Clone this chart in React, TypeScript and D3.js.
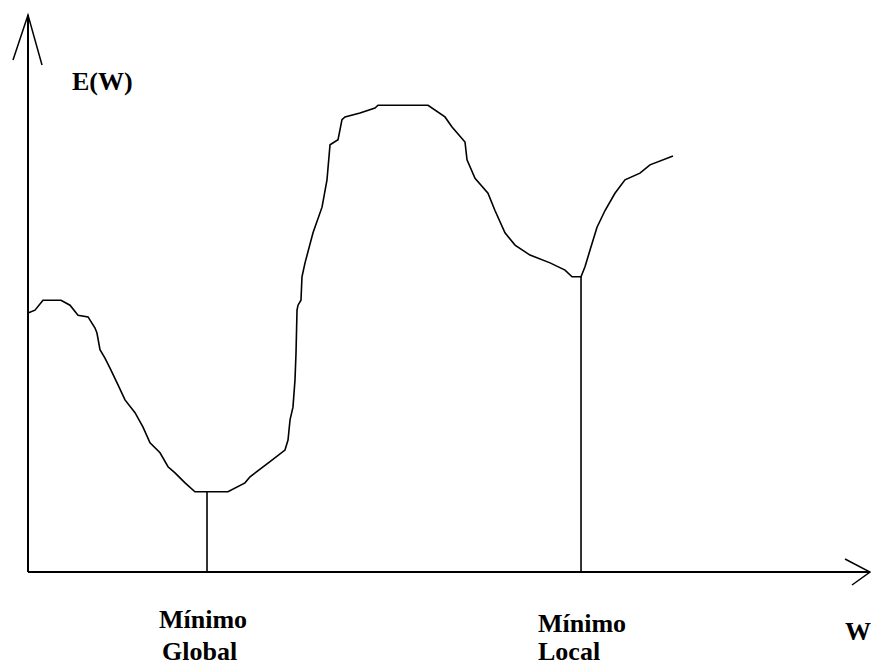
import React from "react";
import * as d3 from "d3";

// Error surface E(W) as a function of weight W (hand-drawn curve)
const wValues = [0, 0.83, 1.78, 3.92, 4.99, 5.94, 7.13, 7.96, 8.19, 8.55, 9.14, 9.74, 10.69, 11.52, 12.71, 13.66, 14.49, 15.68, 16.63, 17.46, 18.65, 19.83, 21.02, 23.75, 25.77, 26.37, 28.74, 30.52, 30.88, 31.12, 31.47, 31.71, 31.83, 31.95, 32.07, 32.42, 32.54, 32.9, 33.85, 34.92, 35.51, 35.87, 36.82, 37.29, 37.65, 39.43, 41.21, 41.57, 47.51, 49.52, 50.36, 51.9, 52.14, 53.09, 54.63, 55.46, 56.65, 57.84, 59.62, 62.0, 63.78, 64.61, 65.68, 66.15, 66.75, 67.58, 68.53, 69.71, 70.9, 72.68, 73.87, 76.6];
const eValues = [46.5, 47.0, 48.8, 48.8, 47.9, 46.1, 45.8, 43.8, 42.9, 39.9, 38.4, 36.6, 33.6, 30.9, 28.6, 26.0, 23.2, 21.4, 18.9, 17.8, 16.0, 14.4, 14.4, 14.4, 16.0, 17.1, 19.8, 21.9, 23.7, 27.3, 29.6, 34.5, 39.3, 47.0, 47.9, 48.8, 53.0, 55.5, 60.9, 65.5, 70.4, 76.7, 77.6, 81.2, 81.7, 82.4, 83.3, 83.8, 83.8, 81.7, 79.9, 77.2, 74.0, 70.7, 68.0, 64.9, 60.9, 58.7, 56.9, 55.5, 54.2, 53.0, 53.0, 54.8, 57.8, 61.9, 64.9, 68.0, 70.4, 71.6, 73.1, 74.7];

// Minima markers
const minimaW = [21.26, 65.68];
const minimaE = [14.4, 53.0];
const minimaLabels = [["Mínimo", "Global"], ["Mínimo", "Local"]];

const yAxisLabel = "E(W)";
const xAxisLabel = "W";

const W = 871;
const H = 666;

export default function App() {
  const x = d3.scaleLinear().domain([0, 100]).range([28, 870]);
  const y = d3.scaleLinear().domain([0, 100]).range([572, 15]);

  const pts: [number, number][] = wValues.map((w, i) => [w, eValues[i]]);
  const line = d3
    .line<[number, number]>()
    .x((d) => x(d[0]))
    .y((d) => y(d[1]))
    .curve(d3.curveLinear);

  const font = {
    fontFamily: "'Liberation Serif', 'Times New Roman', serif",
    fontWeight: 700,
    fontSize: 26,
  } as const;

  const labelPos = [
    { x: 159, y1: 628, y2: 660 },
    { x: 538, y1: 632, y2: 660 },
  ];

  return (
    <svg
      width={W}
      height={H}
      style={{ position: "absolute", left: 0, top: 0, background: "#fff" }}
    >
      {/* axes */}
      <line x1={x(0)} y1={y(0)} x2={x(0)} y2={y(100)} stroke="#000" strokeWidth={2} />
      <line x1={x(0)} y1={y(0)} x2={x(100)} y2={y(0)} stroke="#000" strokeWidth={2} />
      {/* y arrow head */}
      <path
        d={`M${x(0) - 15},${y(100) + 45} L${x(0)},${y(100)} L${x(0) + 14},${y(100) + 50}`}
        fill="none"
        stroke="#000"
        strokeWidth={1.5}
      />
      {/* x arrow head */}
      <path
        d={`M${x(100) - 25},${y(0) - 13} L${x(100)},${y(0)} L${x(100) - 18},${y(0) + 13}`}
        fill="none"
        stroke="#000"
        strokeWidth={1.5}
      />

      {/* curve */}
      <path d={line(pts) || ""} fill="none" stroke="#000" strokeWidth={1.6} />

      {/* minima drop lines */}
      {minimaW.map((w, i) => (
        <line
          key={i}
          x1={x(w)}
          x2={x(w)}
          y1={y(0)}
          y2={y(minimaE[i])}
          stroke="#000"
          strokeWidth={1.6}
        />
      ))}

      {/* labels */}
      <text x={72} y={90} {...font}>
        {yAxisLabel}
      </text>
      <text x={845} y={640} {...font}>
        {xAxisLabel}
      </text>
      {minimaLabels.map((lbl, i) => (
        <g key={i}>
          <text x={labelPos[i].x} y={labelPos[i].y1} {...font}>
            {lbl[0]}
          </text>
          <text x={labelPos[i].x + (i === 0 ? 3 : 0)} y={labelPos[i].y2} {...font}>
            {lbl[1]}
          </text>
        </g>
      ))}
    </svg>
  );
}
